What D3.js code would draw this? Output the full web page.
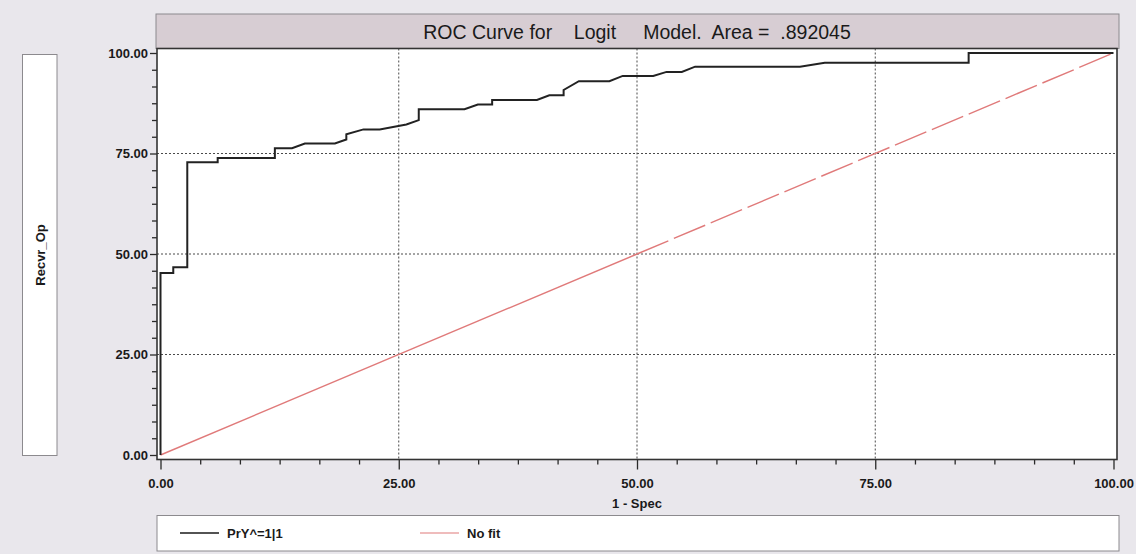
<!DOCTYPE html>
<html>
<head>
<meta charset="utf-8">
<script src="https://cdn.jsdelivr.net/npm/d3@7"></script>
<style>
  html, body { margin: 0; padding: 0; background: #e9e7ec; }
  svg { display: block; }
  text { font-family: "Liberation Sans", Arial, sans-serif; }
</style>
</head>
<body>
<svg id="chart" width="1136" height="554"></svg>
<script>
// ROC curve vertices: 1 - specificity (%) and sensitivity (%)
const rocFpr = [0, 0, 1.34, 1.34, 2.81, 2.81, 6.0, 6.0, 12.0, 12.0, 13.8, 15.15, 18.3, 19.5, 19.5, 21.3,
  23.0, 25.8, 27.1, 27.1, 31.9, 33.3, 34.8, 34.8, 39.5, 40.8, 42.3, 42.3, 43.9, 47.1, 48.5,
  51.7, 53.1, 54.7, 56.1, 67.1, 69.7, 84.8, 84.8, 100];
const rocTpr = [0, 45.3, 45.3, 46.7, 46.7, 72.8, 72.8, 73.9, 73.9, 76.3, 76.3, 77.5, 77.5, 78.5, 79.8, 81.0,
  81.0, 82.2, 83.3, 86.0, 86.0, 87.2, 87.2, 88.3, 88.3, 89.5, 89.5, 90.8, 93.0, 93.0, 94.3,
  94.3, 95.3, 95.3, 96.6, 96.6, 97.6, 97.6, 100, 100];

// Reference diagonal (no discrimination), solid first half then dashed
const noFitLowerFpr = [0, 50];
const noFitLowerTpr = [0, 50];
const noFitUpperFpr = [50, 100];
const noFitUpperTpr = [50, 100];

const majorTicks = [0, 25, 50, 75, 100];
const gridTicks = [25, 50, 75];
const titleText = "ROC Curve for    Logit     Model.  Area =  .892045";
const xTitle = "1 - Spec";
const yTitle = "Recvr_Op";
const legendLabels = ["PrY^=1|1", "No fit"];

const svg = d3.select("#chart");

// frame and data extents
const frame = { left: 157, right: 1117, top: 48.5, bottom: 459.5 };
const x = d3.scaleLinear().domain([0, 100]).range([160.5, 1113.5]);
const y = d3.scaleLinear().domain([0, 100]).range([455, 53]);

const minorTicks = d3.range(0, 100.0001, 25 / 6).filter(v => !majorTicks.some(m => Math.abs(m - v) < 1e-6));

// title band
svg.append("rect")
  .attr("x", 156).attr("y", 14).attr("width", 963).attr("height", 34.5)
  .attr("fill", "#d7cdd3").attr("stroke", "#8c8a8e").attr("stroke-width", 1);
svg.append("text")
  .attr("x", 637).attr("y", 38.5)
  .attr("text-anchor", "middle")
  .style("white-space", "pre")
  .attr("font-size", 19.5)
  .attr("fill", "#1a1a1a")
  .text(titleText);

// plot area
svg.append("rect")
  .attr("x", frame.left).attr("y", frame.top)
  .attr("width", frame.right - frame.left).attr("height", frame.bottom - frame.top)
  .attr("fill", "#ffffff");

// dotted grid
const grid = svg.append("g").attr("stroke", "#4a4a4a").attr("stroke-width", 1)
  .attr("stroke-dasharray", "2,2");
grid.selectAll("line.gx").data(gridTicks).join("line")
  .attr("x1", d => x(d)).attr("x2", d => x(d))
  .attr("y1", frame.top).attr("y2", frame.bottom);
grid.selectAll("line.gy").data(gridTicks).join("line")
  .attr("x1", frame.left).attr("x2", frame.right)
  .attr("y1", d => y(d)).attr("y2", d => y(d));

// axes
const fmt = d3.format(".2f");
const xAxis = svg.append("g").attr("transform", `translate(0,${frame.bottom})`)
  .call(d3.axisBottom(x).tickValues(majorTicks).tickFormat(fmt).tickSize(10).tickPadding(9));
const xMinor = svg.append("g").attr("transform", `translate(0,${frame.bottom})`)
  .call(d3.axisBottom(x).tickValues(minorTicks).tickFormat("").tickSize(5));
const yAxis = svg.append("g").attr("transform", `translate(${frame.left},0)`)
  .call(d3.axisLeft(y).tickValues(majorTicks).tickFormat(fmt).tickSize(7).tickPadding(2));
const yMinor = svg.append("g").attr("transform", `translate(${frame.left},0)`)
  .call(d3.axisLeft(y).tickValues(minorTicks).tickFormat("").tickSize(5));

[xAxis, xMinor, yAxis, yMinor].forEach(g => {
  g.select(".domain").remove();
  g.selectAll(".tick line").attr("stroke", "#2a2a2a").attr("stroke-width", 1.3);
  g.selectAll(".tick text")
    .attr("font-family", "'Liberation Sans', Arial, sans-serif")
    .attr("font-size", 13).attr("font-weight", "bold").attr("fill", "#1a1a1a");
});

// series
const line = d3.line().x(d => x(d[0])).y(d => y(d[1]));

svg.append("path")
  .datum(d3.zip(noFitLowerFpr, noFitLowerTpr))
  .attr("d", line).attr("fill", "none")
  .attr("stroke", "#e07a7a").attr("stroke-width", 1.4);
svg.append("path")
  .datum(d3.zip(noFitUpperFpr, noFitUpperTpr))
  .attr("d", line).attr("fill", "none")
  .attr("stroke", "#e07a7a").attr("stroke-width", 1.4)
  .attr("stroke-dasharray", "34,6");

svg.append("path")
  .datum(d3.zip(rocFpr, rocTpr))
  .attr("d", line).attr("fill", "none")
  .attr("stroke", "#222").attr("stroke-width", 2)
  .attr("stroke-linejoin", "miter");

// frame border
svg.append("rect")
  .attr("x", frame.left).attr("y", frame.top)
  .attr("width", frame.right - frame.left).attr("height", frame.bottom - frame.top)
  .attr("fill", "none").attr("stroke", "#333").attr("stroke-width", 1.6);

// x axis title
svg.append("text")
  .attr("x", x(50)).attr("y", 508)
  .attr("text-anchor", "middle")
  .attr("font-size", 13).attr("font-weight", "bold").attr("fill", "#1a1a1a")
  .text(xTitle);

// y axis title box
svg.append("rect")
  .attr("x", 22.5).attr("y", 54.5).attr("width", 34.5).attr("height", 401)
  .attr("fill", "#ffffff").attr("stroke", "#8c8a8e").attr("stroke-width", 1);
svg.append("text")
  .attr("transform", "translate(44.5,255) rotate(-90)")
  .attr("text-anchor", "middle")
  .attr("font-size", 13).attr("font-weight", "bold").attr("fill", "#1a1a1a")
  .text(yTitle);

// legend
svg.append("rect")
  .attr("x", 157).attr("y", 515.5).attr("width", 962).attr("height", 35.5)
  .attr("fill", "#ffffff").attr("stroke", "#8c8a8e").attr("stroke-width", 1);
const legendColors = ["#1a1a1a", "#e07a7a"];
const legendX = [180, 420];
const lg = svg.append("g").selectAll("g").data(legendLabels).join("g")
  .attr("transform", (d, i) => `translate(${legendX[i]},533)`);
lg.append("line").attr("x1", 0).attr("x2", 39).attr("y1", 0).attr("y2", 0)
  .attr("stroke", (d, i) => legendColors[i]).attr("stroke-width", (d, i) => i === 0 ? 1.6 : 1.2);
lg.append("text").attr("x", 47).attr("y", 4.5)
  .attr("font-size", 13).attr("font-weight", "bold").attr("fill", "#1a1a1a")
  .text(d => d);
</script>
</body>
</html>
